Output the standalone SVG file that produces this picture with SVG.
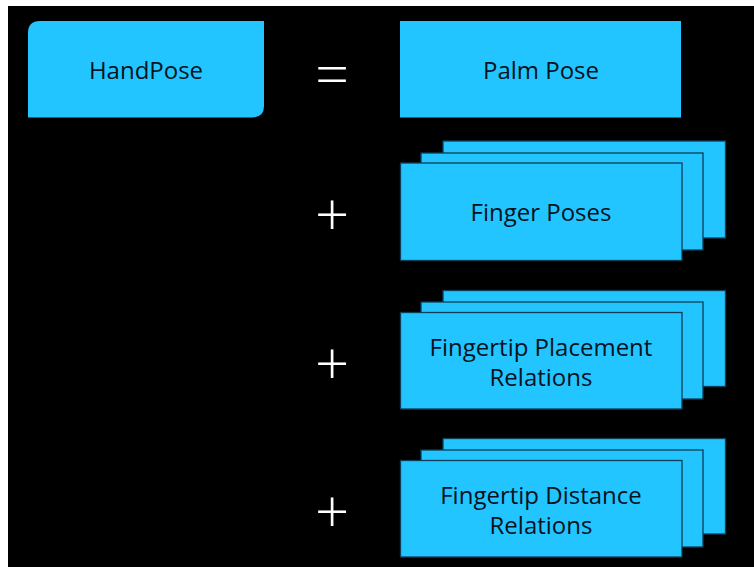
<svg xmlns="http://www.w3.org/2000/svg" width="754" height="567" viewBox="0 0 754 567">
<style>
.box{fill:#22C5FF;}
.stk{fill:#22C5FF;stroke:#0f3d55;stroke-width:1.3;}
.lbl{font-family:"Open Sans","Noto Sans",sans-serif;font-size:24px;fill:#06121c;text-anchor:middle;}
.op{font-family:"Open Sans","Noto Sans",sans-serif;font-size:60px;font-weight:300;fill:#ffffff;text-anchor:middle;}
</style>
<rect x="0" y="0" width="754" height="567" fill="#ffffff"/>
<rect x="8" y="6" width="746" height="561" fill="#000000"/>
<g id="handpose">
<path class="box" d="M40,21 H264 V106 Q264,117.5 252,117.5 H28 V33 Q28,21 40,21 Z"/>
<text class="lbl" x="146" y="79">HandPose</text>
</g>
<g id="ops">
<text class="op" x="332" y="96">=</text>
<text class="op" x="332" y="236">+</text>
<text class="op" x="332" y="385">+</text>
<text class="op" x="332" y="533">+</text>
</g>
<g id="palm-pose">
<rect class="box" x="400" y="21" width="281" height="96.5"/>
<text class="lbl" x="541" y="79">Palm Pose</text>
</g>
<g id="finger-poses">
<rect class="stk" x="443" y="141" width="282.5" height="97"/>
<rect class="stk" x="421" y="153" width="282" height="97"/>
<rect class="stk" x="400.5" y="163" width="281.5" height="97.5"/>
<text class="lbl" x="541" y="221">Finger Poses</text>
</g>
<g id="fingertip-placement">
<rect class="stk" x="443" y="290.5" width="282.5" height="96"/>
<rect class="stk" x="421" y="302" width="282" height="97"/>
<rect class="stk" x="400.5" y="312.5" width="281.5" height="96.5"/>
<text class="lbl" x="541" y="356">Fingertip Placement</text>
<text class="lbl" x="541" y="386">Relations</text>
</g>
<g id="fingertip-distance">
<rect class="stk" x="443" y="438.5" width="282.5" height="95.5"/>
<rect class="stk" x="421" y="450" width="282" height="97"/>
<rect class="stk" x="400.5" y="460.5" width="281.5" height="96.5"/>
<text class="lbl" x="541" y="504">Fingertip Distance</text>
<text class="lbl" x="541" y="534">Relations</text>
</g>
<g id="connectors"></g>
</svg>
